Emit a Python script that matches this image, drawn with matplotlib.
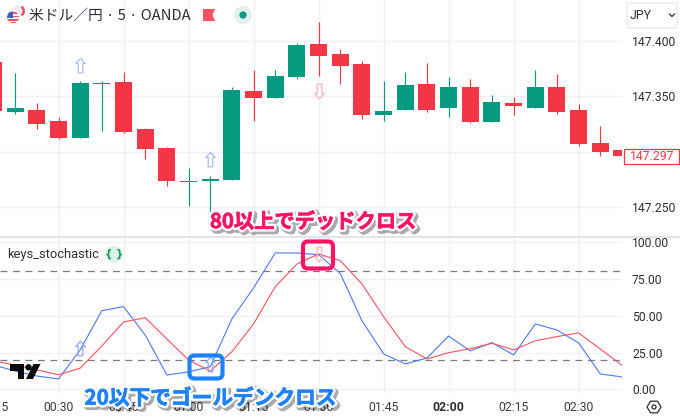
import matplotlib
matplotlib.use("Agg")
import matplotlib.pyplot as plt
import matplotlib.patheffects as pe
from matplotlib.patches import Circle, FancyBboxPatch, Polygon, Rectangle, Wedge
from matplotlib.path import Path

plt.rcParams['font.family'] = ['Roboto', 'Noto Sans CJK JP', 'DejaVu Sans']

opens = [147.381,147.336,147.338,147.328,147.312,147.361,147.363,147.320,147.303,147.2725,
         147.273,147.274,147.355,147.348,147.367,147.397,147.388,147.379,147.333,147.338,
         147.361,147.339,147.358,147.327,147.344,147.339,147.358,147.338,147.308,147.301]
highs = [147.390,147.371,147.344,147.331,147.364,147.364,147.372,147.321,147.304,147.285,
         147.278,147.358,147.374,147.374,147.398,147.417,147.393,147.382,147.364,147.372,
         147.380,147.367,147.366,147.351,147.349,147.374,147.370,147.343,147.323,147.301]
lows = [147.334,147.334,147.320,147.311,147.312,147.319,147.317,147.293,147.269,147.251,
        147.245,147.274,147.328,147.348,147.366,147.368,147.361,147.329,147.328,147.338,
        147.336,147.331,147.326,147.327,147.333,147.339,147.334,147.305,147.296,147.296]
closes = [147.337,147.339,147.325,147.312,147.362,147.362,147.318,147.302,147.273,147.2735,
          147.275,147.356,147.348,147.368,147.396,147.386,147.377,147.333,147.337,147.360,
          147.338,147.358,147.327,147.345,147.341,147.358,147.336,147.307,147.300,147.296]
stoch_k = [16.6,12.5,9.1,7.1,26.8,53.4,56.1,36.9,9.8,11.9,15.4,47.8,68.8,92.5,92.5,
           91.3,78.6,46.6,24.1,17.3,21.3,36.2,26.1,31.7,23.4,44.4,40.3,31.5,10.5,8.5]
stoch_d = [19.3,16.6,13.2,10.0,14.4,29.5,45.7,48.6,34.2,20.0,12.5,25.6,44.4,69.6,85.0,
           91.8,87.3,71.5,49.3,29.0,20.7,24.9,27.6,31.3,26.8,33.0,35.8,38.3,27.4,16.4]
time_ticks = [3, 6, 9, 12, 15, 18, 21, 24, 27]
time_labels = ['00:30','00:45','01:00','01:15','01:30','01:45','02:00','02:15','02:30']
price_ticks = [147.400, 147.350, 147.300, 147.250]
price_labels = ['147.400', '147.350', '', '147.250']
osc_ticks = [100, 75, 50, 25, 0]
up_idx = [4, 10]
up_prices = [147.378, 147.293]
up_osc = [27.8, 17.3]
down_idx = [15]
down_prices = [147.355]
down_osc = [91.8]
last_price = '147.297'

GREEN = '#089981'
RED = '#F23645'
GRID = '#f0f1f5'
TXT = '#3a3d46'
W, H = 680, 420

fig = plt.figure(figsize=(6.8, 4.2), dpi=100, facecolor='white')


def pane(x0, y0, x1, y1):
    return fig.add_axes([x0 / W, 1 - y1 / H, (x1 - x0) / W, (y1 - y0) / H])


XMIN, XMAX = 0.30, 29.0
ax = pane(0, 0, 622, 236)
ax2 = pane(0, 237, 622, 393)

arrow_up = Path([(0, 7), (4.5, 2), (2.2, 2), (2.2, -7), (-2.2, -7), (-2.2, 2), (-4.5, 2), (0, 7)], closed=True)
arrow_down = Path([(0, -7), (4.5, -2), (2.2, -2), (2.2, 7), (-2.2, 7), (-2.2, -2), (-4.5, -2), (0, -7)], closed=True)

for a in (ax, ax2):
    a.set_xlim(XMIN, XMAX)
    for s in a.spines.values():
        s.set_visible(False)
    a.set_xticks(time_ticks)
    a.set_xticklabels([])
    a.tick_params(length=0)
    a.grid(True, color=GRID, lw=1.0)
    a.set_axisbelow(True)
    a.yaxis.tick_right()
    a.set_yticklabels([])

# candles
ax.set_ylim(147.2237, 147.437)
ax.set_yticks(price_ticks)
xs = list(range(len(opens)))
cols = [GREEN if c >= o else RED for o, c in zip(opens, closes)]
ax.vlines(xs, lows, highs, colors=cols, lw=0.85, zorder=2)
ax.bar(xs, [max(abs(c - o), 0.001) for o, c in zip(opens, closes)],
       bottom=[min(o, c) for o, c in zip(opens, closes)],
       width=0.785, color=cols, lw=0, zorder=3)
ax.plot(up_idx, up_prices, ls='', marker=arrow_up, ms=10.5, mfc='white', mec='#a8bfff', mew=0.9, zorder=4)
ax.plot(down_idx, down_prices, ls='', marker=arrow_down, ms=10.5, mfc='white', mec='#ffb3b8', mew=0.9, zorder=4)

# oscillator
ax2.set_ylim(-2.4, 103.3)
ax2.set_yticks(osc_ticks)
ax2.axhline(80, color='#787b86', lw=0.9, dashes=(5.5, 4.5), zorder=2)
ax2.axhline(20, color='#787b86', lw=0.9, dashes=(5.5, 4.5), zorder=2)
ax2.plot(xs, stoch_k, color='#4a78f5', lw=0.8, zorder=3)
ax2.plot(xs, stoch_d, color='#f4525e', lw=0.8, zorder=3)
ax2.plot(up_idx, up_osc, ls='', marker=arrow_up, ms=10.5, mfc='none', mec='#8fa9fb', mew=0.9, zorder=4)
ax2.plot(down_idx, down_osc, ls='', marker=arrow_down, ms=10.5, mfc='none', mec='#ffb3b8', mew=0.9, zorder=4)

# tick labels
for p, l in zip(price_ticks, price_labels):
    ax.annotate(l, (622, p), xycoords=('figure pixels', 'data'), xytext=(632, p),
                textcoords=('figure pixels', 'data'), ha='left', va='center_baseline', fontsize=8.7,
                color='#2a2e39', annotation_clip=False)
for v in osc_ticks:
    ax2.annotate(f'{v:.2f}', (622, v), xycoords=('figure pixels', 'data'), xytext=(632, v),
                 textcoords=('figure pixels', 'data'), ha='left', va='center_baseline', fontsize=8.7,
                 color='#2a2e39', annotation_clip=False)

# overlay in pixel coordinates
ov = fig.add_axes([0, 0, 1, 1], zorder=10)
ov.set_xlim(0, W)
ov.set_ylim(H, 0)
ov.axis('off')
ov.patch.set_alpha(0)
ov.plot([0, W], [237, 237], color='#e3e4e8', lw=1.4, zorder=1)


def xpix(i):
    return (i - XMIN) / (XMAX - XMIN) * 622


ov.text(xpix(0), 407.5, '00:15', ha='center', va='center', fontsize=8.8, color=TXT)
for t, l in zip(time_ticks, time_labels):
    ov.text(xpix(t), 407.5, l, ha='center', va='center', fontsize=8.8, color='#2a2e39' if l == '02:00' else TXT,
            fontweight='bold' if l == '02:00' else 'normal')

# header
ov.add_patch(Circle((19, 11), 6, fc='#eceef3', ec='none'))
ov.add_patch(Wedge((19, 11), 6, -60, 60, width=2.5, fc='#f2545b', ec='none'))
ov.add_patch(Circle((13, 17.3), 7, fc='white', ec='none'))
flag = Circle((13, 17.3), 6, fc='white', ec='none')
ov.add_patch(flag)
for yy, col in [(12.2, '#f2545b'), (15.5, '#f2545b'), (19, '#f2545b'), (21.6, '#f2545b')]:
    r = Rectangle((6, yy), 14, 1.8, fc=col, ec='none')
    ov.add_patch(r)
    r.set_clip_path(flag)
r = Rectangle((6, 10), 7, 8, fc='#3d62b8', ec='none')
ov.add_patch(r)
r.set_clip_path(flag)
ov.text(29, 16, '米ドル／円 · 5 · OANDA', ha='left', va='center', fontsize=10.6, color='#2a2e39',
        family=['Noto Sans CJK JP', 'DejaVu Sans'])
ov.add_patch(Polygon([(203, 9), (215, 9), (212.5, 15), (215, 21), (203, 21)], closed=True, fc='#f7525f', ec='none'))
ov.add_patch(Circle((243, 15), 9, fc='#dff2ee', ec='none'))
ov.add_patch(Circle((243, 15), 3.6, fc=GREEN, ec='none'))

# currency box
ov.add_patch(FancyBboxPatch((629, 5), 46, 21, boxstyle='round,pad=2,rounding_size=3', fc='white', ec='#e0e3eb', lw=0.8))
ov.text(630, 15.5, 'JPY', ha='left', va='center', fontsize=8.9, color='#2a2e39')
ov.plot([669.5, 672, 674.5], [14, 16.5, 14], color='#2a2e39', lw=0.9)

# last price
ov.add_patch(Rectangle((623.5, 149), 55, 15, fc='white', ec=RED, lw=0.9))
ov.text(652, 157, last_price, ha='center', va='center', fontsize=8.7, color=RED)

# indicator name
ov.text(7, 254.5, 'keys_stochastic', ha='left', va='center', fontsize=9.3, color='#2a2e39')
ov.add_patch(Circle((114, 254.5), 8.5, fc='#dff2ea', ec='none'))
ov.text(114, 253.5, '{ }', ha='center', va='center', fontsize=7.5, color='#0f9d58', fontweight='bold',
        family='DejaVu Sans')

# TV logo
ov.add_patch(Polygon([(10, 364), (24, 364), (24, 379), (17.5, 379), (17.5, 370.5), (10, 370.5)], closed=True, fc='#0b0b0b', ec='none'))
ov.add_patch(Circle((28.5, 367.3), 3.2, fc='#0b0b0b', ec='none'))
ov.add_patch(Polygon([(33.5, 364), (40.5, 364), (33, 379), (26, 379)], closed=True, fc='#0b0b0b', ec='none'))

# settings icon
ov.add_patch(Polygon([(647, 407), (650.5, 401.2), (657.5, 401.2), (661, 407), (657.5, 412.8), (650.5, 412.8)],
                     closed=True, fc='none', ec='#2a2e39', lw=0.9))
ov.add_patch(Circle((654, 407), 2, fc='none', ec='#2a2e39', lw=0.9))

# highlight boxes
PINK = '#FF1464'
BLUE = '#1E82FF'
ov.add_patch(FancyBboxPatch((307, 245.5), 22, 19, boxstyle='round,pad=4,rounding_size=5', fc='none', ec=PINK, lw=3.0))
ov.add_patch(FancyBboxPatch((193.5, 359.5), 25, 15, boxstyle='round,pad=4,rounding_size=5', fc='none', ec=BLUE, lw=3.0))


def effects(col):
    return [pe.Stroke(linewidth=5, foreground='#00000055', offset=(1.5, -1.5)),
            pe.Stroke(linewidth=4, foreground='white'),
            pe.Stroke(linewidth=0.5, foreground=col), pe.Normal()]


ov.text(313, 221.5, '80以上でデッドクロス', ha='center', va='center', fontsize=14.6, fontweight='bold', color=PINK,
        family=['Noto Sans CJK JP', 'DejaVu Sans'], path_effects=effects(PINK))
ov.text(210, 398, '20以下でゴールデンクロス', ha='center', va='center', fontsize=14.9, fontweight='bold', color=BLUE,
        family=['Noto Sans CJK JP', 'DejaVu Sans'], path_effects=effects(BLUE))

fig.savefig('out.png', dpi=100)
